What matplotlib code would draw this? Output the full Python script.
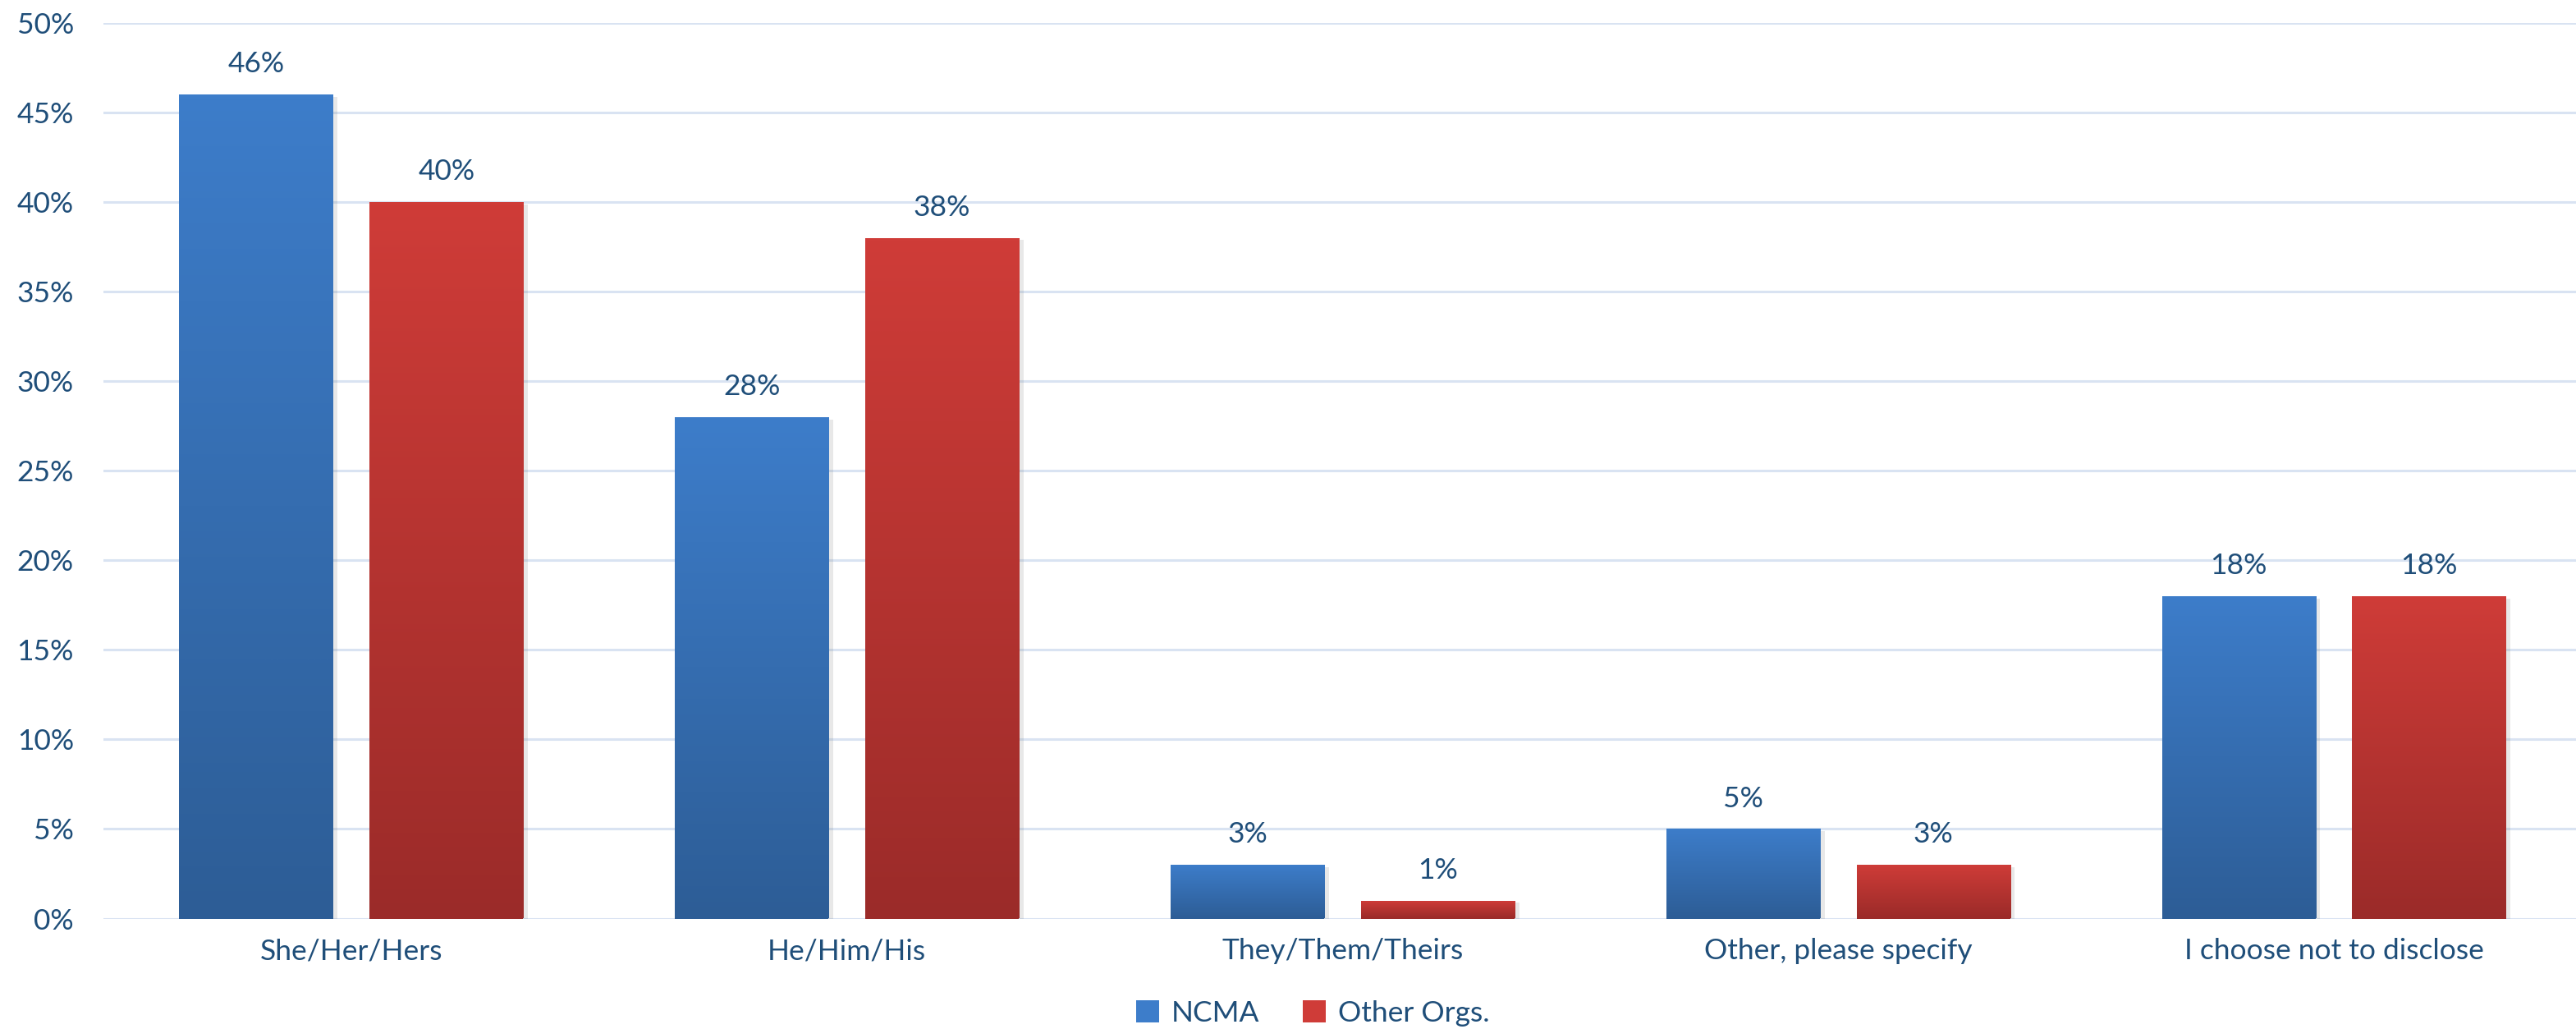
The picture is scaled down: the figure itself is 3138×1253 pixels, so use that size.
import matplotlib
matplotlib.use("Agg")
import matplotlib.pyplot as plt
import numpy as np
from matplotlib.colors import LinearSegmentedColormap
from matplotlib.patches import Patch
from matplotlib import patheffects as pe

# Survey answers (percent)
categories = ["She/Her/Hers", "He/Him/His", "They/Them/Theirs",
              "Other, please specify", "I choose not to disclose"]
ncma = [46, 28, 3, 5, 18]
other_orgs = [40, 38, 1, 3, 18]
series_names = ["NCMA", "Other Orgs."]
y_ticks = [0, 5, 10, 15, 20, 25, 30, 35, 40, 45, 50]

TEXT = "#1F4E79"
GRID = "#D9E3F2"
blue_top, blue_bot = "#3D7DCA", "#2D5D96"
red_top, red_bot = "#CF3C38", "#9B2B29"

plt.rcParams['font.family'] = ['Lato', 'DejaVu Sans']

fig = plt.figure(figsize=(31.38, 12.53), dpi=100)
ax = fig.add_axes([126 / 3138, 134.5 / 1253, 3019 / 3138, 1090.5 / 1253])

x = np.arange(len(categories))
width = 0.31
offset = 0.192

grad = np.linspace(0, 1, 256).reshape(-1, 1)
shadow = [pe.SimplePatchShadow(offset=(4, -2), shadow_rgbFace="#808080", alpha=0.18),
          pe.Normal()]


def draw_series(xpos, values, top, bot):
    cmap = LinearSegmentedColormap.from_list("g", [top, bot])
    bars = ax.bar(xpos, values, width, color=bot, zorder=3, path_effects=shadow)
    for rect, v in zip(bars, values):
        x0, y0 = rect.get_x(), rect.get_y()
        im = ax.imshow(grad, extent=[x0, x0 + rect.get_width(), y0, y0 + rect.get_height()],
                       origin="upper", aspect="auto", cmap=cmap, zorder=4,
                       interpolation="bilinear")
        im.set_clip_path(rect)
        ax.annotate(f"{v}%", (rect.get_x() + rect.get_width() / 2, v),
                    xytext=(0, 15), textcoords="offset points",
                    ha="center", va="bottom", fontsize=25.5, color=TEXT, zorder=5)
    return bars


draw_series(x - offset, ncma, blue_top, blue_bot)
draw_series(x + offset, other_orgs, red_top, red_bot)

ax.set_xlim(-0.5, len(categories) - 0.5)
ax.set_ylim(0, 50)
ax.set_yticks(y_ticks)
ax.set_yticklabels([f"{t}%" for t in y_ticks])
ax.set_xticks(x)
ax.set_xticklabels(categories)
ax.tick_params(axis="y", length=0, pad=26, labelsize=25.5, labelcolor=TEXT)
ax.tick_params(axis="x", length=0, pad=17, labelsize=25.5, labelcolor=TEXT)
ax.yaxis.grid(True, color=GRID, linewidth=2.2, zorder=0)
ax.set_axisbelow(True)
for s in ax.spines.values():
    s.set_visible(False)

handles = [Patch(facecolor=blue_top, edgecolor="none"),
           Patch(facecolor=red_top, edgecolor="none")]
fig.legend(handles, series_names, loc="center", bbox_to_anchor=(1599 / 3138, 1 - 1234 / 1253),
           ncol=2, frameon=False, fontsize=25.5, labelcolor=TEXT,
           handlelength=0.8, handleheight=0.8, handletextpad=0.4, columnspacing=1.5)

fig.savefig("out.png", dpi=100)
